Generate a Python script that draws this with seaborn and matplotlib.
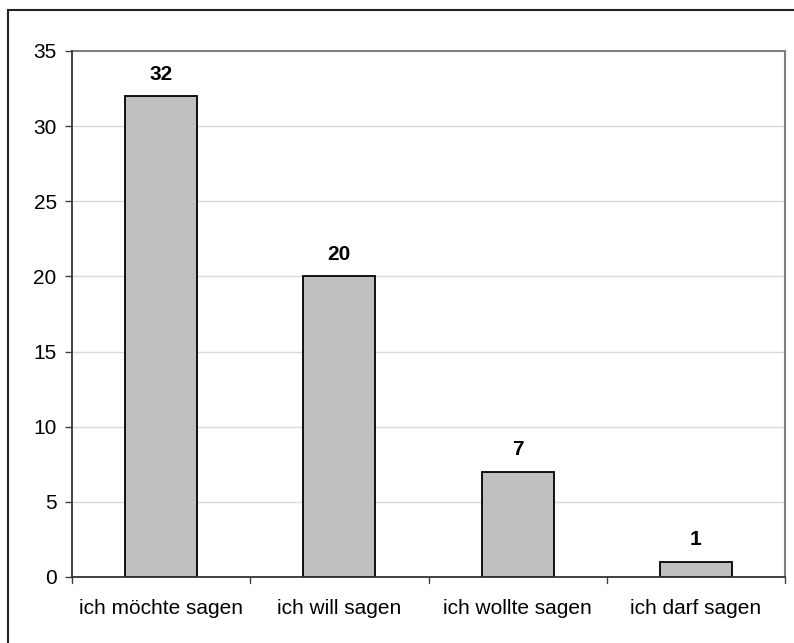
import matplotlib
matplotlib.use("Agg")
import matplotlib.pyplot as plt
import seaborn as sns
import pandas as pd
from matplotlib.patches import Rectangle

# Antworten und ihre Häufigkeiten
categories = ["ich möchte sagen", "ich will sagen", "ich wollte sagen", "ich darf sagen"]
counts = [32, 20, 7, 1]
y_ticks = [0, 5, 10, 15, 20, 25, 30, 35]

sns.set_theme(style="white")
plt.rcParams["font.family"] = ["Liberation Sans", "DejaVu Sans"]
plt.rcParams["text.color"] = "black"
plt.rcParams["xtick.color"] = "black"
plt.rcParams["ytick.color"] = "black"

df = pd.DataFrame({"antwort": categories, "anzahl": counts})

fig = plt.figure(figsize=(7.94, 6.43), dpi=100)
ax = fig.add_axes([72 / 794, 1 - 577 / 643, (785 - 72) / 794, (577 - 51) / 643])

sns.barplot(data=df, x="antwort", y="anzahl", color="#C0C0C0", width=0.405,
            edgecolor="black", linewidth=1.3, saturation=1, ax=ax, zorder=3)

ax.set_xlim(-0.5, len(categories) - 0.5)
ax.set_ylim(0, 35)
ax.set_yticks(y_ticks)
ax.set_yticklabels([str(t) for t in y_ticks], fontsize=15)
ax.set_xlabel("")
ax.set_ylabel("")
ax.tick_params(axis="x", labelsize=15, length=0, pad=16, labelcolor="black")
ax.tick_params(axis="y", left=True, length=5, width=1, color="#404040", pad=6,
               labelcolor="black")

# Gitternetzlinien
for t in y_ticks[1:-1]:
    ax.axhline(t, color="#D9D9D9", linewidth=1, zorder=1)

# Teilstriche zwischen den Kategorien
for b in [-0.5, 0.5, 1.5, 2.5, 3.5]:
    ax.plot([b, b], [0, -0.012], transform=ax.get_xaxis_transform(),
            color="#404040", linewidth=1, clip_on=False)

for side in ["top", "right"]:
    ax.spines[side].set_color("#808080")
    ax.spines[side].set_linewidth(1.5)
for side in ["left", "bottom"]:
    ax.spines[side].set_color("#333333")
    ax.spines[side].set_linewidth(1.3)
    ax.spines[side].set_zorder(4)

# Werte über den Balken
for i, v in enumerate(counts):
    ax.annotate(str(v), (i, v), xytext=(0, 9), textcoords="offset points",
                ha="center", va="bottom", fontsize=15, fontweight="bold",
                color="black")

# Rahmen um das Diagramm
fig.patches.append(Rectangle((8 / 794, -0.1), 1.0, 1.1 - 10 / 643,
                             transform=fig.transFigure, fill=False,
                             edgecolor="#222222", linewidth=1.5))

fig.savefig("out.png", dpi=100)
